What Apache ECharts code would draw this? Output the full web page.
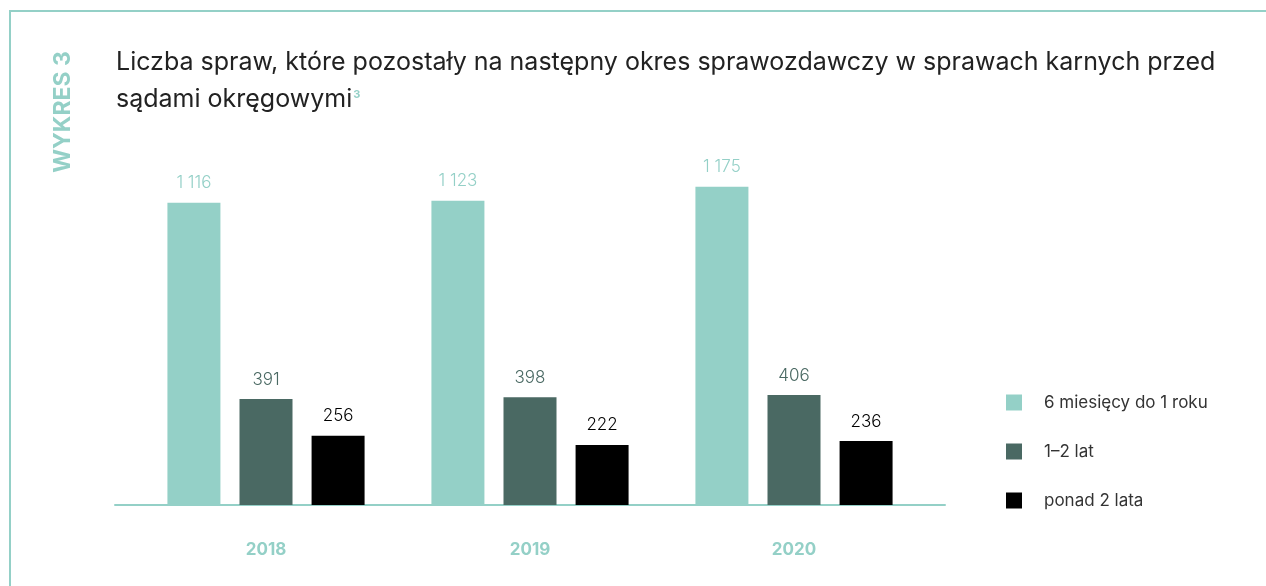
<!DOCTYPE html>
<html>
<head>
<meta charset="utf-8">
<script src="https://cdn.jsdelivr.net/npm/echarts@6/dist/echarts.min.js"></script>
<style>
  html, body { margin: 0; padding: 0; background: #fff; }
  #chart { width: 1266px; height: 586px; }
</style>
</head>
<body>
<div id="chart"></div>
<script>
// dane z wykresu
const years = ['2018', '2019', '2020'];
const seriesNames = ['6 miesięcy do 1 roku', '1–2 lat', 'ponad 2 lata'];
const halfYearToYear = [1116, 1123, 1175];
const oneToTwoYears = [391, 398, 406];
const overTwoYears = [256, 222, 236];

const TEAL = '#94d0c7';
const DARK = '#4a6963';
const FONT = 'Inter, "Open Sans", sans-serif';

const chart = echarts.init(document.getElementById('chart'));

// 1116 -> "1 116"
function fmt(p) {
  return String(p.value).replace(/\B(?=(\d{3})+(?!\d))/g, ' ');
}

function barSeries(name, data, color, labelColor) {
  return {
    name: name,
    type: 'bar',
    xAxisIndex: 0,
    yAxisIndex: 0,
    data: data,
    barWidth: 53,
    barGap: '36%',
    itemStyle: { color: color },
    label: {
      show: true,
      position: 'top',
      distance: 11,
      formatter: fmt,
      color: labelColor,
      fontFamily: FONT,
      fontSize: 17,
      fontWeight: 300
    }
  };
}

const option = {
  backgroundColor: '#fff',
  animation: false,
  title: {
    left: 116,
    top: 44,
    padding: 0,
    text: 'Liczba spraw, które pozostały na następny okres sprawozdawczy w sprawach karnych przed\nsądami okręgowymi{sup|3}',
    textStyle: {
      color: '#222',
      fontFamily: FONT,
      fontSize: 25,
      fontWeight: 400,
      lineHeight: 37,
      rich: {
        sup: {
          color: TEAL,
          fontFamily: FONT,
          fontSize: 11,
          fontWeight: 700,
          verticalAlign: 'top',
          lineHeight: 37,
          padding: [8, 0, 0, 1]
        }
      }
    }
  },
  legend: {
    orient: 'vertical',
    left: 1006,
    top: 394,
    padding: 0,
    itemWidth: 16,
    itemHeight: 16,
    itemGap: 32,
    icon: 'rect',
    data: seriesNames,
    textStyle: {
      color: '#333',
      fontFamily: FONT,
      fontSize: 17,
      padding: [0, 0, 0, 17]
    }
  },
  grid: [
    // słupki
    { left: 134, width: 792, top: 180, height: 325 },
    // linia osi (dłuższa niż pasma kategorii)
    { left: 115, width: 830, top: 180, height: 325 }
  ],
  xAxis: [
    {
      type: 'category',
      gridIndex: 0,
      data: years,
      axisLine: { show: false },
      axisTick: { show: false },
      axisLabel: {
        margin: 36,
        color: TEAL,
        fontFamily: FONT,
        fontSize: 17,
        fontWeight: 700
      }
    },
    {
      type: 'value',
      gridIndex: 1,
      min: 0,
      max: 1,
      axisLine: { show: true, onZero: false, lineStyle: { color: TEAL, width: 2 } },
      axisTick: { show: false },
      axisLabel: { show: false },
      splitLine: { show: false }
    }
  ],
  yAxis: [
    { type: 'value', gridIndex: 0, min: 0, max: 1200, show: false },
    { type: 'value', gridIndex: 1, min: 0, max: 1, show: false }
  ],
  graphic: [
    {
      type: 'polyline',
      shape: { points: [[10, 600], [10, 11], [1280, 11]] },
      style: { stroke: TEAL, lineWidth: 2, fill: null }
    },
    {
      type: 'text',
      x: 63,
      y: 112,
      rotation: Math.PI / 2,
      style: {
        text: 'WYKRES 3',
        fill: TEAL,
        font: 'bold 23px ' + FONT,
        textAlign: 'center',
        textVerticalAlign: 'middle'
      }
    }
  ],
  series: [
    barSeries(seriesNames[0], halfYearToYear, TEAL, TEAL),
    barSeries(seriesNames[1], oneToTwoYears, DARK, DARK),
    barSeries(seriesNames[2], overTwoYears, '#000', '#000')
  ]
};

chart.setOption(option);
</script>
</body>
</html>
